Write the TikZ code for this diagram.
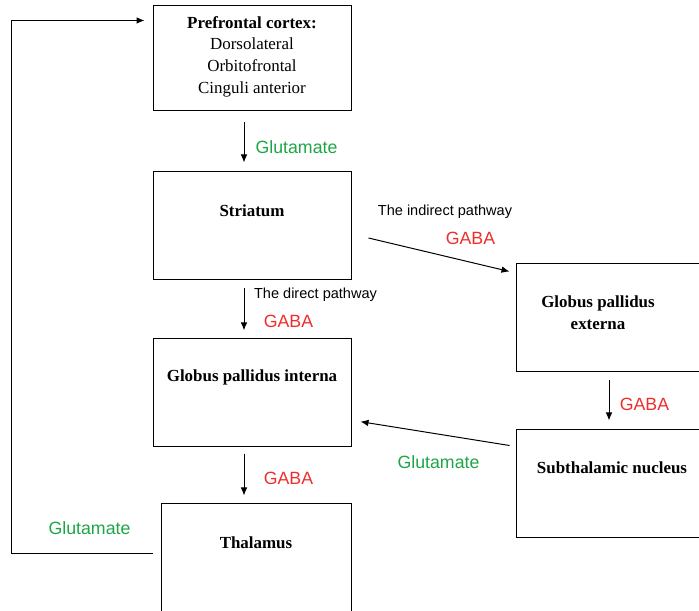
\documentclass[tikz,border=0pt]{standalone}
\usepackage{fontspec}
\setmainfont{Liberation Serif}
\setsansfont{Liberation Sans}
\usepackage{tikz}
\usetikzlibrary{arrows.meta}

\definecolor{glugreen}{RGB}{30,165,70}
\definecolor{gabared}{RGB}{238,45,45}

\tikzset{
  caja/.style={draw, line width=0.75pt, inner sep=0pt, minimum width=148.5pt, minimum height=80.5pt},
  texto/.style={font=\fontsize{12.7}{16.3}\selectfont\bfseries, align=center, inner sep=0pt},
  flecha/.style={-{Latex[length=6pt,width=5pt]}, line width=0.75pt},
  glu/.style={font=\sffamily\fontsize{13.3}{15}\selectfont, text=glugreen, inner sep=0pt},
  gaba/.style={font=\sffamily\fontsize{13.3}{15}\selectfont, text=gabared, inner sep=0pt},
  via/.style={font=\sffamily\fontsize{10.9}{13}\selectfont, inner sep=0pt}
}

\begin{document}
\begin{tikzpicture}[x=0.75pt, y=0.75pt]
  \useasboundingbox (0,0) rectangle (699,610);
  \clip (0,0) rectangle (699,610);

  %Cajas
  \node [caja, minimum height=78.75pt] (pfc) at (252,551.5) {};
  \node [caja, minimum height=81pt] (striatum) at (252,384) {};
  \node [caja] (gpi) at (252,217.5) {};
  \node [caja, minimum width=142.5pt, minimum height=81pt] (thalamus) at (256,52) {};
  \node [caja, minimum height=81pt] (gpe) at (615,292) {};
  \node [caja, minimum height=81pt] (stn) at (615,126) {};

  %Textos
  \node [texto] (pfc-t) at (252,553.5) {Prefrontal cortex:\\\mdseries Dorsolateral\\\mdseries Orbitofrontal\\\mdseries Cinguli anterior};
  \node [texto] (striatum-t) at (252,399) {Striatum};
  \node [texto] (gpi-t) at (252,233) {Globus pallidus interna};
  \node [texto] (thalamus-t) at (256,67) {Thalamus};
  \node [texto] (gpe-t) at (598,297.5) {Globus pallidus\\externa};
  \node [texto] (stn-t) at (612,142) {Subthalamic nucleus};

  %Arcos
  \draw[flecha, shorten <=8.25pt, shorten >=6.75pt] ([xshift=-6pt]pfc.south) -- ([xshift=-6pt]striatum.north);
  \draw[flecha, shorten <=6pt, shorten >=6pt] ([xshift=-6pt]striatum.south) -- ([xshift=-6pt]gpi.north);
  \draw[flecha, shorten <=5.25pt, shorten >=6pt] ([xshift=-6pt]gpi.south) -- ([xshift=-6pt]thalamus.north west -| gpi.south);
  \draw[flecha, shorten <=6pt, shorten >=6.75pt] ([xshift=-4.5pt]gpe.south) -- ([xshift=-4.5pt]stn.north);
  \draw[flecha] ([shift={(12.75pt,-9pt)}]striatum.east) -- ([shift={(-4.5pt,-6pt)}]gpe.north west);
  \draw[flecha] ([shift={(-4.5pt,-12pt)}]stn.north west) -- ([shift={(6.75pt,18.75pt)}]gpi.south east);
  \coordinate (entrada) at ([shift={(-6pt,-11.25pt)}]pfc.north west);
  \draw[flecha] ([shift={(-6pt,3pt)}]thalamus.west) -| ([xshift=-99.75pt]entrada) -- (entrada);

  %Etiquetas
  \node [glu] (glu1) at (296.5,463) {Glutamate};
  \node [via] (indirecta) at (445,398) {The indirect pathway};
  \node [gaba] (gaba1) at (470.5,372) {GABA};
  \node [via] (directa) at (315.5,315) {The direct pathway};
  \node [gaba] (gaba2) at (288.5,289) {GABA};
  \node [gaba] (gaba3) at (644.5,206) {GABA};
  \node [glu] (glu2) at (438.5,148) {Glutamate};
  \node [gaba] (gaba4) at (288.5,132) {GABA};
  \node [glu] (glu3) at (89.5,82) {Glutamate};
\end{tikzpicture}
\end{document}
